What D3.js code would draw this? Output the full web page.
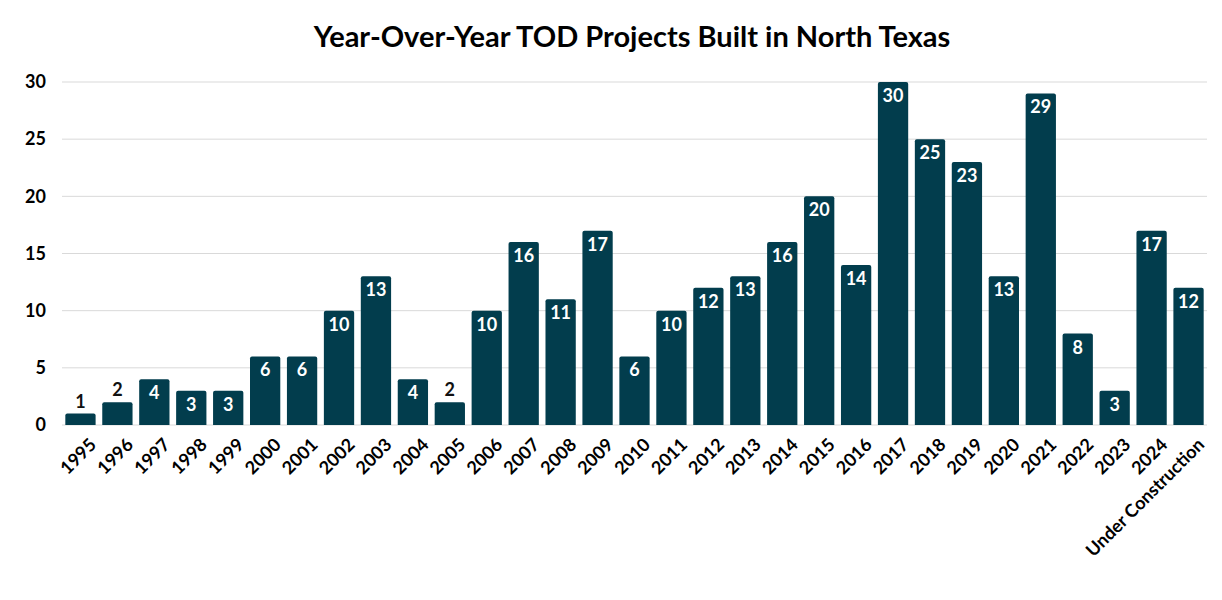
<!DOCTYPE html>
<html>
<head>
<meta charset="utf-8">
<script src="https://cdn.jsdelivr.net/npm/d3@7"></script>
<style>
  body { margin: 0; background: #fff; font-family: Lato, "Open Sans", sans-serif; }
</style>
</head>
<body>
<svg id="chart" width="1222" height="600"></svg>
<script>
// 数据
var years = ["1995","1996","1997","1998","1999","2000","2001","2002","2003","2004","2005","2006","2007","2008","2009","2010","2011","2012","2013","2014","2015","2016","2017","2018","2019","2020","2021","2022","2023","2024","Under Construction"];
var projects = [1,2,4,3,3,6,6,10,13,4,2,10,16,11,17,6,10,12,13,16,20,14,30,25,23,13,29,8,3,17,12];
var yTicks = [0,5,10,15,20,25,30];

var svg = d3.select("#chart");
var margin = { top: 82, right: 15, bottom: 175, left: 62 };
var width = 1222 - margin.left - margin.right;
var height = 600 - margin.top - margin.bottom;
var barColor = "#023d4d";

svg.append("text")
    .attr("x", 632).attr("y", 47)
    .attr("text-anchor", "middle")
    .style("font-size", "29px").style("font-weight", "bold")
    .text("Year-Over-Year TOD Projects Built in North Texas");

var g = svg.append("g").attr("transform", "translate(" + margin.left + "," + margin.top + ")");

var x = d3.scaleBand().domain(years).range([0, width]).paddingInner(0.18).paddingOuter(0.09);
var y = d3.scaleLinear().domain([0, 30]).range([height, 0]);

// 网格线
g.selectAll(".grid").data(yTicks).enter().append("line")
    .attr("x1", 0).attr("x2", width)
    .attr("y1", d => y(d)).attr("y2", d => y(d))
    .attr("stroke", "#d9d9d9").attr("stroke-width", 1);

// Y 轴标签
g.selectAll(".ytick").data(yTicks).enter().append("text")
    .attr("x", -16).attr("y", d => y(d)).attr("dy", "0.35em")
    .attr("text-anchor", "end")
    .style("font-size", "18px").style("font-weight", "bold")
    .text(d => d);

// 柱子
g.selectAll(".bar").data(projects).enter().append("path")
    .attr("fill", barColor)
    .attr("d", function (d, i) {
        var x0 = x(years[i]), w = x.bandwidth(), y0 = y(d), r = 2;
        return "M" + x0 + "," + height + "V" + (y0 + r) + "Q" + x0 + "," + y0 + " " + (x0 + r) + "," + y0 +
            "H" + (x0 + w - r) + "Q" + (x0 + w) + "," + y0 + " " + (x0 + w) + "," + (y0 + r) + "V" + height + "Z";
    });

// 数值标签
g.selectAll(".val").data(projects).enter().append("text")
    .attr("x", (d, i) => x(years[i]) + x.bandwidth() / 2)
    .attr("y", d => d <= 2 ? y(d) - 6 : y(d) + 20)
    .attr("text-anchor", "middle")
    .attr("fill", d => d <= 2 ? "#111" : "#fff")
    .style("font-size", "18px").style("font-weight", "bold")
    .text(d => d);

// X 轴标签
g.selectAll(".xtick").data(years).enter().append("text")
    .attr("transform", d => "translate(" + (x(d) + x.bandwidth() / 2 + 8) + "," + (height + 12) + ") rotate(-45)")
    .attr("text-anchor", "end")
    .attr("dy", "0.7em")
    .style("font-size", "18px").style("font-weight", "bold")
    .text(d => d);
</script>
</body>
</html>
